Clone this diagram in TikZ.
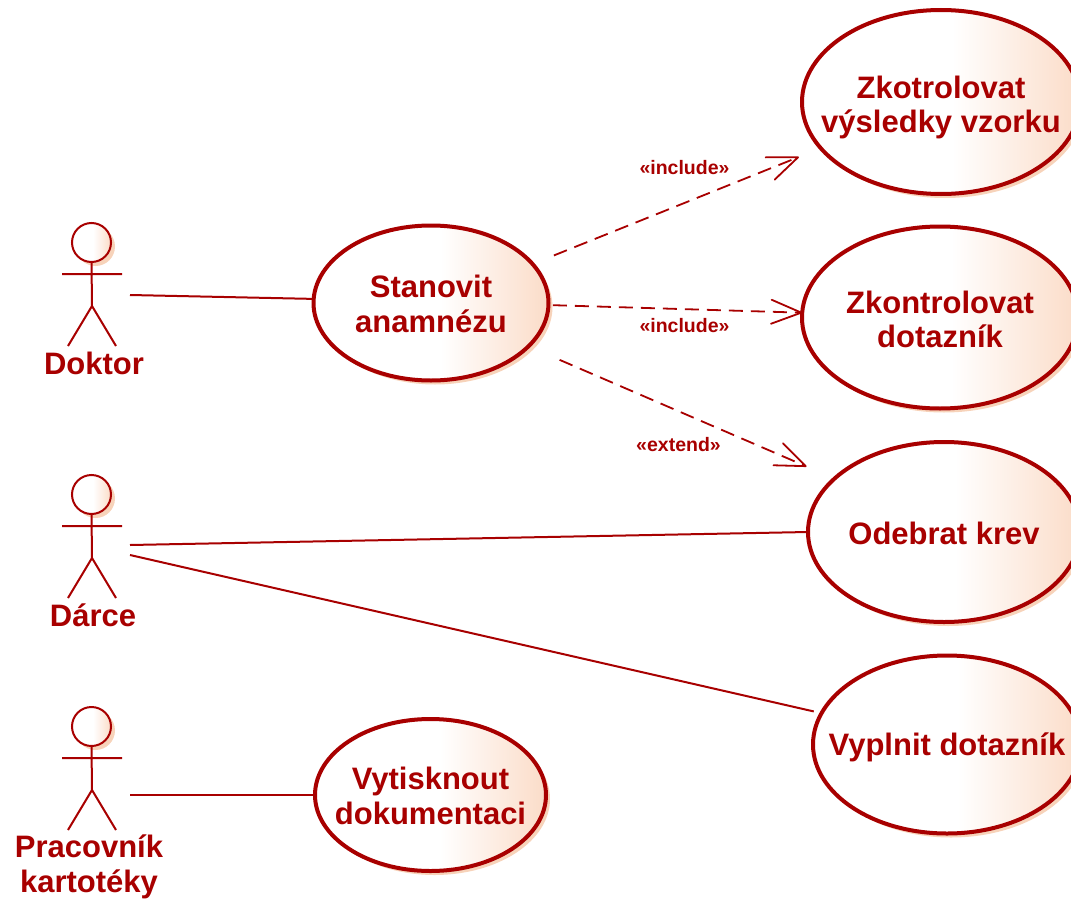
\documentclass[tikz,border=0pt]{standalone}
\usepackage{fontspec}
\setmainfont{Liberation Sans}
\usetikzlibrary{shapes.geometric,shadows,arrows.meta}
\definecolor{umlred}{HTML}{A80000}
\definecolor{umlpeach}{HTML}{FBDCC8}
\definecolor{umlshadow}{HTML}{F7D3BA}
\pgfdeclarehorizontalshading{umlfill}{100bp}{color(0bp)=(white);color(25bp)=(white);color(52bp)=(white);color(75bp)=(umlpeach);color(100bp)=(umlpeach)}
% pushes a node's text down by #1 inside its shape
\newcommand{\lowertext}[1]{\rule{0pt}{\dimexpr 22.5pt+2\dimexpr #1\relax\relax}}
\tikzset{
  x=1pt,y=-1pt,
  usecase/.style={ellipse,draw=umlred,line width=4pt,outer sep=0pt,inner sep=-45pt,
    shading=umlfill,
    drop shadow={shadow xshift=4pt,shadow yshift=-4pt,opacity=1,fill=umlshadow},
    text=umlred,align=center,font=\fontsize{31}{34.5}\selectfont\bfseries},
  acthead/.style={circle,draw=umlred,line width=2pt,outer sep=0pt,inner sep=0pt,minimum size=39pt,
    shading=umlfill,
    drop shadow={shadow xshift=4pt,shadow yshift=-4pt,opacity=1,fill=umlshadow}},
  actlimb/.style={draw=umlred,line width=2pt},
  actname/.style={text=umlred,align=center,inner sep=0pt,font=\fontsize{31}{34.5}\selectfont\bfseries},
  assoc/.style={draw=umlred,line width=2pt},
  dep/.style={draw=umlred,line width=1.8pt,dash pattern=on 14pt off 8pt,
    -{Straight Barb[length=30pt,width=24pt,line width=1.8pt,round=false]}},
  stereo/.style={text=umlred,inner sep=0pt,font=\fontsize{19.5}{22}\selectfont\bfseries},
}
\begin{document}
\begin{tikzpicture}
\useasboundingbox (0,0) rectangle (1071,899);
% use cases
\node[usecase,minimum width=278pt,minimum height=184pt] (zv) at (941,102) {\lowertext{5.5pt}Zkotrolovat\\výsledky vzorku};
\node[usecase,minimum width=276pt,minimum height=182pt] (zd) at (940,317.5) {\lowertext{2pt}Zkontrolovat\\dotazník};
\node[usecase,minimum width=272pt,minimum height=180pt] (ok) at (944,532) {\lowertext{1pt}Odebrat krev};
\node[usecase,minimum width=268pt,minimum height=178pt] (vd) at (947,744.5) {\lowertext{3pt}Vyplnit dotazník};
\node[usecase,minimum width=235pt,minimum height=155pt] (sa) at (431,303) {\lowertext{1pt}Stanovit\\anamnézu};
\node[usecase,minimum width=231pt,minimum height=152pt] (vk) at (430.5,795) {\lowertext{1pt}Vytisknout\\dokumentaci};
% actors
\foreach \nm/\dy in {a/0,b/252,c/484}{
  \node[acthead] (head\nm) at (91.5,{242.5+\dy}) {};
  \coordinate (hip\nm) at (92,{306+\dy});
  \coordinate (la\nm) at (62,{274+\dy});
  \coordinate (ra\nm) at (122,{274+\dy});
  \coordinate (lf\nm) at (68,{346+\dy});
  \coordinate (rf\nm) at (116,{346+\dy});
  \path[actlimb] (head\nm.south) -- (hip\nm) (la\nm) -- (ra\nm) (lf\nm) -- (hip\nm) -- (rf\nm);
}
\node[actname] (ln a) at (94,363) {Doktor};
\node[actname] (ln b) at (93,615) {Dárce};
\node[actname] (ln c) at (89,867) {Pracovník\\kartotéky};
% associations
\coordinate (ha) at (130,295);
\coordinate (hb1) at (130,545);
\coordinate (hb2) at (130,555);
\coordinate (hc) at (130,795);
\draw[assoc] (ha) -- (sa.178);
\draw[assoc] (hb1) -- (ok.180.8);
\draw[assoc,shorten >=8pt] (hb2) -- (vd.166.6);
\draw[assoc] (hc) -- (vk.west);
% dependencies
\draw[dep,shorten <=23pt,shorten >=23.6pt] (sa.21.4) -- (zv.201.8);
\draw[dep,shorten <=4.5pt] (sa.-1) -- (zd.178.3);
\draw[dep,shorten <=34pt,shorten >=30.5pt] (sa.-24.9) -- (ok.154.9);
% stereotypes
\node[stereo] (s1) at (684.5,168) {«include»};
\node[stereo] (s2) at (684.5,326) {«include»};
\node[stereo] (s3) at (678.5,445) {«extend»};
\end{tikzpicture}
\end{document}
